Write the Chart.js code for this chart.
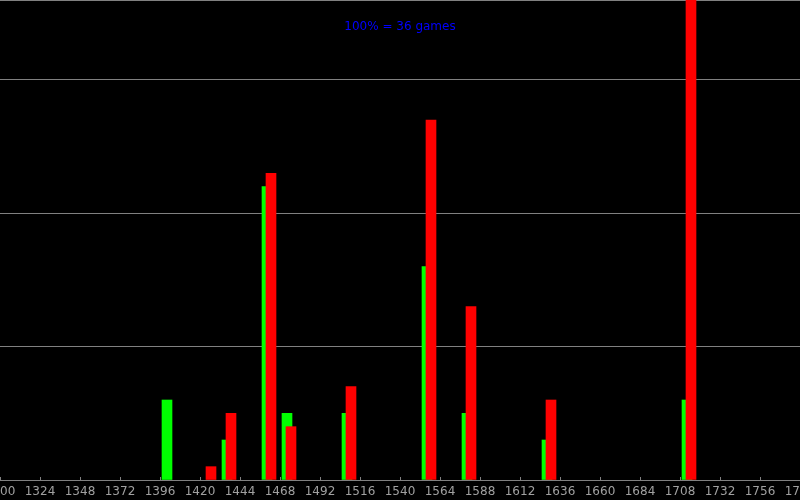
<!DOCTYPE html>
<html><head><meta charset="utf-8">
<script src="https://cdn.jsdelivr.net/npm/chart.js@4"></script>
<style>html,body{margin:0;padding:0;background:#000;overflow:hidden}canvas{display:block}</style>
</head><body>
<canvas id="c" width="800" height="500"></canvas>
<script>
// ---- data ----
const ratingBins  = [1396, 1420, 1432, 1456, 1468, 1504, 1552, 1576, 1624, 1708];
const greenCounts = [6,    null, 3,    22,   5,    5,    16,   5,    3,    6];
const redCounts   = [null, 1,    5,    23,   4,    7,    27,   13,   6,    36];
const xTickMin = 1300, xTickMax = 1780, xTickStep = 24;
const yMax = 36, yGridStep = 10;
const titleText = "100% = 36 games";

// ---- style ----
const FONT = "DejaVu Sans";
const LINE = "#808080";
const LABEL = "#a0a0a0";
const greenShift = 4.2, redShift = 6.6; // bar centre offset inside a bin (axis units)

const redData = ratingBins.map((b, i) => ({x: b + redShift, y: redCounts[i]}));
const greenData = ratingBins.map((b, i) => ({x: b + greenShift, y: greenCounts[i]}));

const tickMarks = {
  id: 'tickMarks',
  beforeDatasetsDraw(chart) {
    const ctx = chart.ctx, s = chart.scales.x, bottom = chart.chartArea.bottom;
    ctx.save();
    ctx.strokeStyle = LINE; ctx.lineWidth = 1;
    s.ticks.forEach(t => {
      const px = Math.round(s.getPixelForValue(t.value)) + 0.5;
      ctx.beginPath(); ctx.moveTo(px, bottom - 3); ctx.lineTo(px, bottom); ctx.stroke();
    });
    ctx.restore();
  }
};
const titleDraw = {
  id: 'titleDraw',
  afterDraw(chart) {
    const ctx = chart.ctx, a = chart.chartArea;
    ctx.save();
    ctx.font = "12px '" + FONT + "'";
    ctx.fillStyle = "#0000ff";
    ctx.textAlign = "center"; ctx.textBaseline = "alphabetic";
    ctx.fillText(titleText, (a.left + a.right) / 2, 30);
    ctx.restore();
  }
};

new Chart(document.getElementById('c'), {
  type: 'bar',
  data: {
    datasets: [
      {label: 'red', data: redData, backgroundColor: '#ff0000', barThickness: 10, order: 0},
      {label: 'green', data: greenData, backgroundColor: '#00ff00', barThickness: 10, order: 1}
    ]
  },
  options: {
    responsive: false, animation: false, devicePixelRatio: 1,
    layout: {padding: 0},
    datasets: {bar: {grouped: false, skipNull: true}},
    plugins: {legend: {display: false}, tooltip: {enabled: false}, title: {display: false}},
    scales: {
      x: {
        type: 'linear', min: xTickMin, max: xTickMax, offset: false,
        ticks: {stepSize: xTickStep, color: LABEL, font: {family: FONT, size: 12}, padding: 5,
                maxRotation: 0, autoSkip: false, callback: v => String(v)},
        grid: {display: false, drawTicks: false},
        border: {display: true, color: LINE, width: 1},
        afterFit(s) { s.height = 20; s.paddingLeft = 0; s.paddingRight = 0; }
      },
      y: {
        min: 0, max: yMax,
        ticks: {display: false, stepSize: yGridStep},
        grid: {color: LINE, drawTicks: false, lineWidth: 1},
        border: {display: false},
        afterFit(s) { s.width = 0; }
      }
    }
  },
  plugins: [tickMarks, titleDraw]
});
</script>
</body></html>
